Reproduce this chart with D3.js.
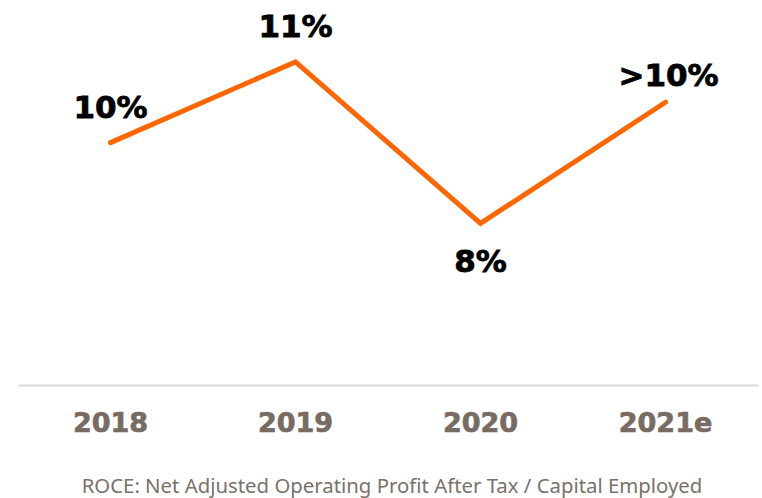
<!DOCTYPE html>
<html>
<head>
<meta charset="utf-8">
<script src="https://cdn.jsdelivr.net/npm/d3@7"></script>
<style>
  body { margin: 0; background: #fff; }
  svg { display: block; }
</style>
</head>
<body>
<div id="chart"></div>
<script>
'use strict'

const years = ['2018', '2019', '2020', '2021e']
const roce = [9.5, 11, 8, 10.25]
const roceLabels = ['10%', '11%', '8%', '>10%']
const labelBelow = [false, false, true, false]
const footnote = 'ROCE: Net Adjusted Operating Profit After Tax / Capital Employed'

const width = 762
const height = 498
const baseline = 385

const svg = d3.select('#chart')
  .append('svg')
  .attr('width', width)
  .attr('height', height)

const x = d3.scaleBand()
  .domain(years)
  .range([18, 758])

const y = d3.scaleLinear()
  .domain([5, 12])
  .range([baseline, 8])

const cx = d => x(d) + x.bandwidth() / 2

// axis line and category labels
const xAxis = svg.append('g')
  .attr('transform', `translate(0,${baseline})`)
  .call(d3.axisBottom(x).tickSize(0).tickPadding(28))

xAxis.select('.domain')
  .attr('stroke', '#d9d9d9')
  .attr('stroke-width', 2)

xAxis.selectAll('text')
  .attr('font-family', 'DejaVu Sans, Verdana, sans-serif')
  .attr('font-weight', 'bold')
  .attr('font-size', 27)
  .attr('fill', '#776b63')
  .attr('stroke', '#776b63')
  .attr('stroke-width', 0.7)
  .attr('dy', '0.72em')

const data = years.map((yr, i) => ({ yr, v: roce[i], label: roceLabels[i], below: labelBelow[i] }))

const line = d3.line()
  .x(d => cx(d.yr))
  .y(d => y(d.v))

svg.append('path')
  .datum(data)
  .attr('d', line)
  .attr('fill', 'none')
  .attr('stroke', '#ff6600')
  .attr('stroke-width', 5)
  .attr('stroke-linecap', 'round')
  .attr('stroke-linejoin', 'miter')

svg.selectAll('text.val')
  .data(data)
  .enter()
  .append('text')
  .attr('class', 'val')
  .attr('x', (d, i) => cx(d.yr) + (i === 3 ? 3 : 0))
  .attr('y', (d, i) => d.below ? y(d.v) + 49 : y(d.v) - (i === 3 ? 16 : 25))
  .attr('text-anchor', 'middle')
  .attr('font-family', 'DejaVu Sans, Verdana, sans-serif')
  .attr('font-weight', 'bold')
  .attr('font-size', 31)
  .attr('fill', '#000')
  .attr('stroke', '#000')
  .attr('stroke-width', 0.8)
  .text(d => d.label)

const note = svg.append('text')
  .attr('x', 392)
  .attr('y', 493)
  .attr('text-anchor', 'middle')
  .attr('font-family', '"Noto Sans", "Open Sans", sans-serif')
  .attr('font-size', 20)
  .attr('fill', '#7a716b')
  .text(footnote)

// fit the footnote to the width it has in the original
const w = note.node().getComputedTextLength()
note.attr('font-size', 20 * 621 / w)
</script>
</body>
</html>
